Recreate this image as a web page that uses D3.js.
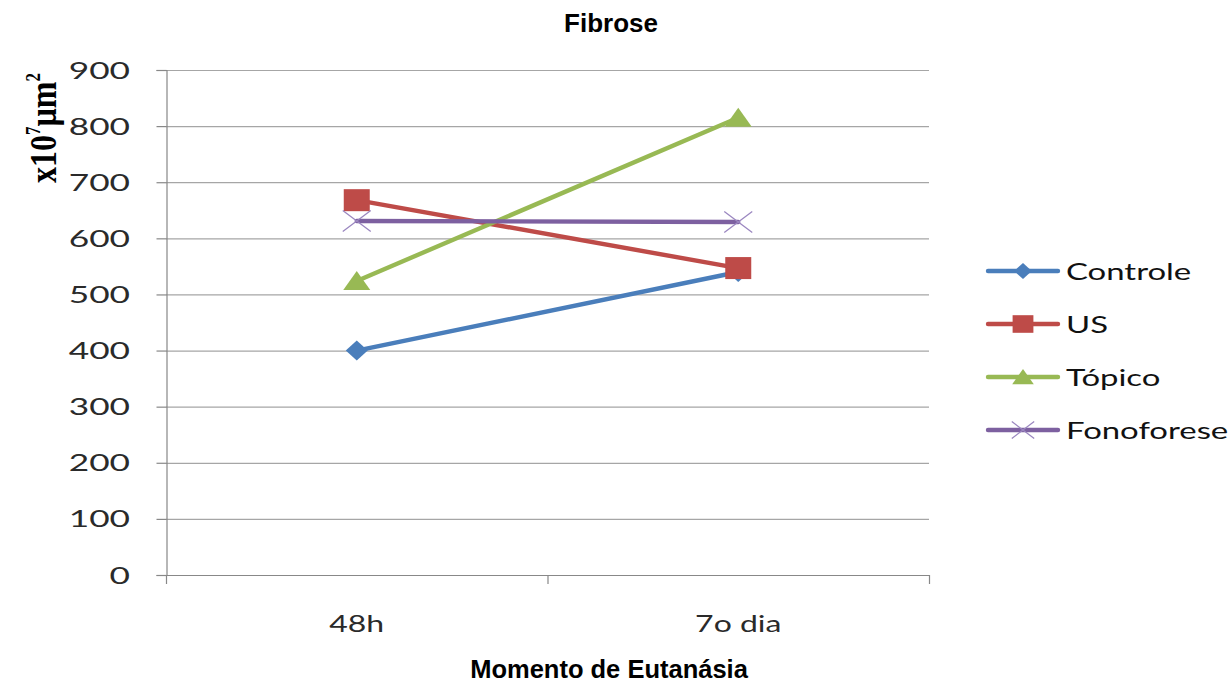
<!DOCTYPE html>
<html>
<head>
<meta charset="utf-8">
<script src="https://cdn.jsdelivr.net/npm/d3@7"></script>
<style>
  html, body { margin: 0; padding: 0; background: #fff; }
  svg { display: block; }
</style>
</head>
<body>
<svg id="chart" width="1232" height="684"></svg>
<script>
// Data
const categories = ["48h", "7o dia"];
const seriesNames = ["Controle", "US", "Tópico", "Fonoforese"];
const controle = [400, 540];
const us = [668, 547];
const topico = [524, 815];
const fonoforese = [631, 629];
const yTicks = [0, 100, 200, 300, 400, 500, 600, 700, 800, 900];

const seriesValues = [controle, us, topico, fonoforese];
const colors = ["#4a7ebb", "#be4b48", "#98b954", "#7d60a0"];
const markers = ["diamond", "square", "triangle", "cross"];

const svg = d3.select("#chart");
const plot = { left: 166, right: 929, top: 70, bottom: 575 };

const x = d3.scaleBand().domain(categories).range([plot.left, plot.right]);
const y = d3.scaleLinear().domain([0, 900]).range([plot.bottom, plot.top]);

// horizontally stretched text helper
function stext(g, tx, ty, str, opts) {
  return g.append("text")
    .attr("transform", `translate(${tx},${ty}) scale(${opts.sx || 1},1)`)
    .attr("text-anchor", opts.anchor || "middle")
    .attr("font-family", opts.family || "Lato, 'Open Sans', sans-serif")
    .attr("font-size", opts.size)
    .attr("font-weight", opts.weight || "normal")
    .attr("fill", opts.fill || "#000")
    .text(str);
}

// Gridlines
svg.append("g")
  .selectAll("line")
  .data(yTicks.filter(d => d > 0))
  .join("line")
  .attr("x1", plot.left).attr("x2", plot.right)
  .attr("y1", d => y(d) + 0.5).attr("y2", d => y(d) + 0.5)
  .attr("stroke", "#a6a6a6").attr("stroke-width", 1.2);

// Y axis
const yAxis = svg.append("g").attr("transform", `translate(${plot.left + 0.5},0)`)
  .call(d3.axisLeft(y).tickValues(yTicks).tickSize(10).tickFormat(""));
yAxis.select(".domain").attr("stroke", "#888").attr("stroke-width", 1.2);
yAxis.selectAll(".tick line").attr("stroke", "#888").attr("stroke-width", 1.2);
yTicks.forEach(v => {
  stext(svg, 130, y(v) + 8.5, String(v), { anchor: "end", size: 23.5, fill: "#2a2a2a", sx: 1.5 });
});

// X axis
svg.append("line")
  .attr("x1", plot.left).attr("x2", plot.right)
  .attr("y1", plot.bottom + 0.5).attr("y2", plot.bottom + 0.5)
  .attr("stroke", "#888").attr("stroke-width", 1.2);
const bounds = [plot.left, ...categories.slice(1).map(c => x(c)), plot.right];
svg.append("g").selectAll("line").data(bounds).join("line")
  .attr("x1", d => d + 0.5).attr("x2", d => d + 0.5)
  .attr("y1", plot.bottom).attr("y2", plot.bottom + 9)
  .attr("stroke", "#888").attr("stroke-width", 1.2);
categories.forEach(c => {
  stext(svg, x(c) + x.bandwidth() / 2, 632, c, { size: 23.5, fill: "#2a2a2a", sx: 1.36 });
});

// Marker shapes (k scales the size)
function drawMarker(g, type, cx, cy, color, k) {
  if (type === "diamond") {
    g.append("path")
      .attr("d", `M${cx},${cy - 10 * k}L${cx + 11 * k},${cy}L${cx},${cy + 10 * k}L${cx - 11 * k},${cy}Z`)
      .attr("fill", color);
  } else if (type === "square") {
    g.append("rect")
      .attr("x", cx - 13 * k).attr("y", cy - 11 * k).attr("width", 26 * k).attr("height", 22 * k)
      .attr("fill", color);
  } else if (type === "triangle") {
    g.append("path")
      .attr("d", `M${cx},${cy - 10 * k}L${cx + 13.5 * k},${cy + 9 * k}L${cx - 13.5 * k},${cy + 9 * k}Z`)
      .attr("fill", color);
  } else if (type === "cross") {
    g.append("path")
      .attr("d", `M${cx - 14 * k},${cy - 10.5 * k}L${cx + 14 * k},${cy + 10.5 * k}M${cx + 14 * k},${cy - 10.5 * k}L${cx - 14 * k},${cy + 10.5 * k}`)
      .attr("stroke", "#9b87c0").attr("stroke-width", 1.3).attr("fill", "none");
  }
}

// Series lines and markers
const line = d3.line()
  .x((d, i) => x(categories[i]) + x.bandwidth() / 2)
  .y(d => y(d));

seriesValues.forEach((vals, s) => {
  const g = svg.append("g");
  g.append("path")
    .attr("d", line(vals))
    .attr("fill", "none")
    .attr("stroke", colors[s])
    .attr("stroke-width", 4.4)
    .attr("stroke-linecap", "round");
  vals.forEach((v, i) => {
    drawMarker(g, markers[s], x(categories[i]) + x.bandwidth() / 2, y(v), colors[s], 1);
  });
});

// Legend
const legendYs = [271, 324, 377, 430];
const lg = svg.append("g");
seriesNames.forEach((name, s) => {
  const ly = legendYs[s];
  lg.append("line")
    .attr("x1", 988).attr("x2", 1058).attr("y1", ly).attr("y2", ly)
    .attr("stroke", colors[s]).attr("stroke-width", 4.4).attr("stroke-linecap", "round");
  drawMarker(lg, markers[s], 1023, ly, colors[s], 0.8);
  stext(lg, 1066, ly + 9, name, { anchor: "start", size: 24, fill: "#111", sx: 1.37 });
});

// Titles
stext(svg, 611, 32, "Fibrose", { size: 26, weight: "bold", family: "'Liberation Sans', Arial, sans-serif" });
stext(svg, 609, 678, "Momento de Eutanásia", { size: 25.5, weight: "bold", family: "'Liberation Sans', Arial, sans-serif" });

// Y axis title (rotated, glyphs widened across the axis)
const yt = svg.append("text")
  .attr("transform", "translate(56,128) rotate(-90) scale(1,1.2)")
  .attr("text-anchor", "middle")
  .attr("font-family", "'Liberation Serif', 'Times New Roman', serif")
  .attr("font-weight", "bold")
  .attr("font-size", 32)
  .attr("fill", "#000");
yt.append("tspan").text("x10");
yt.append("tspan").attr("dy", -13).attr("font-size", 17).text("7");
yt.append("tspan").attr("dy", 13).text("µm");
yt.append("tspan").attr("dy", -13).attr("font-size", 17).text("2");
</script>
</body>
</html>
